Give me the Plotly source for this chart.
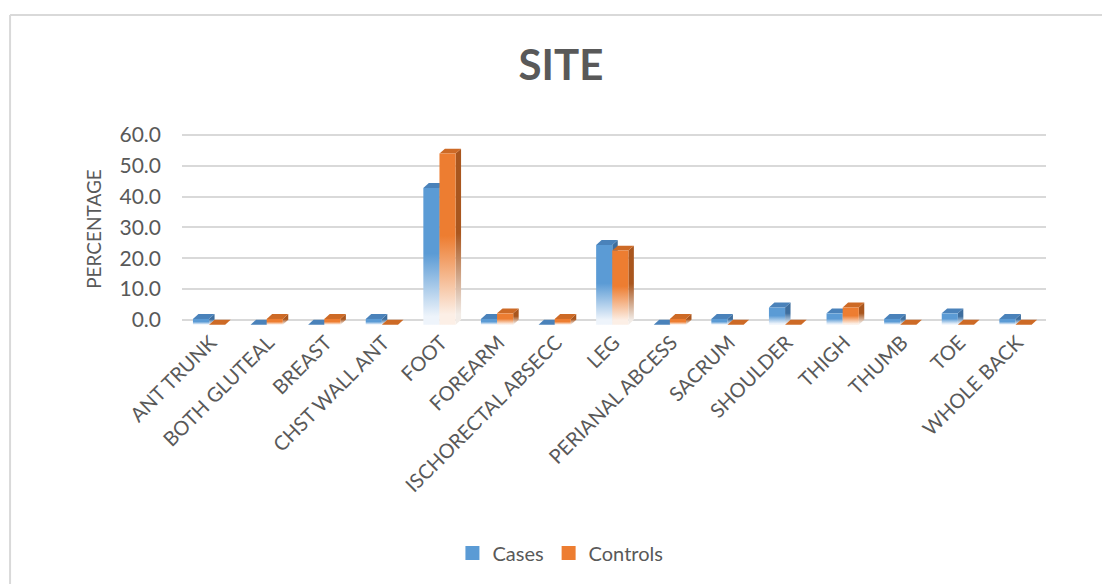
import plotly.graph_objects as go

# ---- data -------------------------------------------------------------
sites = [
    "ANT TRUNK", "BOTH GLUTEAL", "BREAST", "CHST WALL ANT", "FOOT",
    "FOREARM", "ISCHORECTAL ABSECC", "LEG", "PERIANAL ABCESS", "SACRUM",
    "SHOULDER", "THIGH", "THUMB", "TOE", "WHOLE BACK",
]
cases = [1.9, 0.0, 0.0, 1.9, 44.4, 1.9, 0.0, 25.9, 0.0, 1.9, 5.6, 3.7, 1.9, 3.7, 1.9]
controls = [0.0, 1.9, 1.9, 0.0, 55.6, 3.7, 1.9, 24.1, 1.9, 0.0, 0.0, 5.6, 0.0, 0.0, 0.0]
y_ticks = [0, 10, 20, 30, 40, 50, 60]

# ---- styling ----------------------------------------------------------
FONT = "Lato"
TEXT = "#595959"
GRID = "#D9D9D9"

series = [
    dict(name="Cases", values=cases, x_off=-0.31,
         front="#5B9BD5", light="#EEF4FB", side="#3E6E9E", side_light="#E6EEF6", top="#4A82BA"),
    dict(name="Controls", values=controls, x_off=-0.03,
         front="#ED7D31", light="#FCEFE6", side="#A9561E", side_light="#F2ECE7", top="#CD6A26"),
]

BAR_W = 0.28   # front-face width (category units)
DX = 0.095     # depth offset along x (category units)
DY = 1.6       # depth offset along y (value units)


def face(xs, ys, **kw):
    return go.Scatter(x=xs, y=ys, mode="lines", line=dict(width=0, color="rgba(0,0,0,0)"),
                      fill="toself", hoverinfo="skip", showlegend=False, **kw)


def ramp(light, full, full_at=0.52):
    return [[0.0, light], [0.06, light], [full_at, full], [1.0, full]]


fig = go.Figure()

for i, _ in enumerate(sites):
    for s in series:
        v = s["values"][i]
        x0 = i + s["x_off"]
        x1 = x0 + BAR_W
        if v > 0:
            # right side face
            fig.add_trace(face(
                [x1, x1 + DX, x1 + DX, x1, x1],
                [-DY, 0, v, v - DY, -DY],
                fillgradient=dict(type="vertical",
                                  colorscale=ramp(s["side_light"], s["side"]),
                                  start=-DY, stop=v),
            ))
        # top face
        fig.add_trace(face(
            [x0, x1, x1 + DX, x0 + DX, x0],
            [v - DY, v - DY, v, v, v - DY],
            fillcolor=s["top"],
        ))
        if v > 0:
            # front face
            fig.add_trace(face(
                [x0, x1, x1, x0, x0],
                [-DY, -DY, v - DY, v - DY, -DY],
                fillgradient=dict(type="vertical",
                                  colorscale=ramp(s["light"], s["front"]),
                                  start=-DY, stop=v - DY),
            ))

# legend entries
for s in series:
    fig.add_trace(go.Scatter(
        x=[None], y=[None], mode="markers", name=s["name"],
        marker=dict(symbol="square", size=14, color=s["front"]),
    ))

# chart border (top and left edges of the chart frame)
frame_x = -0.199
frame_y = 1.603
fig.add_shape(type="line", xref="paper", yref="paper",
              x0=frame_x, x1=frame_x, y0=-1.6, y1=frame_y,
              line=dict(color=GRID, width=2))
fig.add_shape(type="line", xref="paper", yref="paper",
              x0=frame_x, x1=1.2, y0=frame_y, y1=frame_y,
              line=dict(color=GRID, width=2))

fig.update_layout(
    width=1102, height=584,
    margin=dict(l=182, r=56, t=132, b=258),
    paper_bgcolor="white", plot_bgcolor="white",
    font=dict(family=FONT, color=TEXT),
    title=dict(text="<b>SITE</b>", font=dict(size=42, color=TEXT, family=FONT),
               xref="container", yref="container", x=0.509, y=0.888,
               xanchor="center", yanchor="middle"),
    showlegend=True,
    legend=dict(orientation="h", x=0.438, y=-1.17, xanchor="center", yanchor="middle",
                font=dict(size=20, color=TEXT, family=FONT), itemwidth=30,
                bgcolor="rgba(0,0,0,0)"),
    xaxis=dict(
        range=[-0.5, 14.5], tickmode="array",
        tickvals=list(range(len(sites))), ticktext=sites,
        tickangle=-45, tickfont=dict(size=20, color=TEXT, family=FONT),
        showgrid=False, zeroline=False, showline=False, ticks="",
        fixedrange=True,
    ),
    yaxis=dict(
        range=[-2, 61], tickmode="array", tickvals=y_ticks,
        ticktext=[f"{t:.1f}" for t in y_ticks],
        tickfont=dict(size=21, color=TEXT, family=FONT),
        showgrid=True, gridcolor=GRID, gridwidth=1.5,
        zeroline=False, showline=False, ticks="", ticklabelstandoff=20,
        title=dict(text="PERCENTAGE", font=dict(size=19, color=TEXT, family=FONT), standoff=12),
        fixedrange=True,
    ),
)

fig.write_html("out.html")
